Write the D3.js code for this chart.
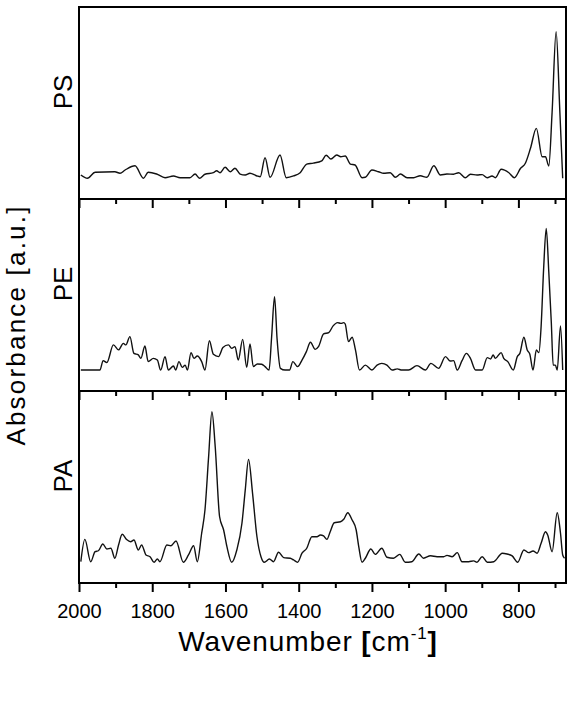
<!DOCTYPE html>
<html>
<head>
<meta charset="utf-8">
<script src="https://cdn.jsdelivr.net/npm/d3@7"></script>
<style>
body { margin: 0; background: #fff; }
svg { display: block; }
text { font-family: Arial, "Liberation Sans", sans-serif; fill: #000; }
</style>
</head>
<body>
<div id="chart"></div>
<script>
(function(){

var width = 573,
	height = 716,
	left = 79,
	right = 566,
	top = 7,
	panel_h = 192;

// spectra, [wavenumber, absorbance a.u.]

var psSpectrum = [[1995,0.125],[1977,0.108],[1956,0.139],[1902,0.142],[1888,0.134],[1874,0.151],[1847,0.173],[1824,0.108],[1811,0.139],[1788,0.130],[1765,0.111],[1742,0.120],[1724,0.111],[1697,0.111],[1683,0.130],[1671,0.108],[1656,0.129],[1633,0.137],[1624,0.147],[1615,0.137],[1601,0.165],[1587,0.142],[1574,0.160],[1560,0.130],[1546,0.125],[1533,0.134],[1514,0.120],[1505,0.116],[1492,0.215],[1478,0.113],[1451,0.229],[1434,0.111],[1414,0.120],[1396,0.137],[1378,0.182],[1360,0.187],[1337,0.199],[1325,0.228],[1312,0.208],[1296,0.229],[1285,0.220],[1273,0.224],[1259,0.182],[1246,0.177],[1227,0.111],[1218,0.113],[1200,0.151],[1182,0.142],[1168,0.134],[1150,0.137],[1136,0.113],[1122,0.130],[1104,0.111],[1086,0.111],[1068,0.121],[1050,0.113],[1031,0.173],[1013,0.125],[995,0.130],[977,0.129],[963,0.137],[945,0.111],[931,0.129],[913,0.125],[899,0.127],[885,0.111],[872,0.120],[863,0.111],[847,0.155],[826,0.137],[811,0.111],[794,0.160],[781,0.186],[767,0.264],[751,0.368],[735,0.220],[726,0.220],[717,0.172],[708,0.450],[697,0.871],[687,0.464],[679,0.108]];

var peSpectrum = [[1995,0.109],[1943,0.109],[1934,0.158],[1924,0.148],[1906,0.240],[1892,0.214],[1879,0.248],[1872,0.240],[1861,0.283],[1850,0.196],[1838,0.188],[1831,0.170],[1820,0.234],[1811,0.153],[1797,0.170],[1786,0.161],[1777,0.109],[1765,0.179],[1756,0.109],[1742,0.130],[1736,0.109],[1727,0.153],[1718,0.123],[1710,0.135],[1704,0.109],[1694,0.200],[1686,0.170],[1677,0.182],[1665,0.153],[1656,0.109],[1644,0.262],[1633,0.191],[1619,0.179],[1607,0.226],[1592,0.240],[1583,0.222],[1574,0.231],[1565,0.161],[1553,0.269],[1542,0.123],[1533,0.245],[1524,0.127],[1513,0.141],[1501,0.139],[1492,0.127],[1481,0.109],[1474,0.280],[1466,0.491],[1459,0.270],[1450,0.118],[1437,0.109],[1425,0.109],[1416,0.153],[1403,0.127],[1391,0.161],[1379,0.205],[1368,0.254],[1355,0.217],[1346,0.231],[1332,0.297],[1318,0.304],[1306,0.339],[1294,0.356],[1285,0.352],[1277,0.356],[1273,0.349],[1264,0.257],[1254,0.280],[1245,0.214],[1234,0.109],[1218,0.135],[1200,0.109],[1186,0.135],[1173,0.144],[1159,0.135],[1145,0.109],[1131,0.115],[1118,0.109],[1100,0.109],[1077,0.132],[1054,0.109],[1039,0.144],[1018,0.118],[999,0.179],[986,0.156],[977,0.158],[967,0.109],[954,0.158],[942,0.196],[931,0.170],[917,0.109],[899,0.109],[885,0.174],[876,0.167],[869,0.188],[863,0.170],[847,0.200],[840,0.170],[829,0.153],[814,0.109],[803,0.179],[796,0.196],[785,0.280],[776,0.214],[769,0.193],[760,0.109],[751,0.214],[744,0.200],[738,0.335],[731,0.640],[724,0.847],[717,0.620],[710,0.352],[705,0.135],[699,0.135],[694,0.109],[685,0.339],[679,0.109]];

var paSpectrum = [[1995,0.111],[1984,0.227],[1968,0.111],[1956,0.163],[1947,0.168],[1935,0.203],[1924,0.177],[1913,0.181],[1902,0.129],[1892,0.198],[1882,0.254],[1870,0.227],[1859,0.215],[1850,0.224],[1838,0.172],[1829,0.198],[1817,0.146],[1806,0.137],[1795,0.108],[1786,0.125],[1779,0.111],[1760,0.198],[1749,0.194],[1735,0.219],[1715,0.108],[1701,0.146],[1687,0.194],[1677,0.111],[1665,0.259],[1656,0.380],[1646,0.658],[1637,0.892],[1628,0.710],[1616,0.345],[1605,0.276],[1596,0.189],[1583,0.108],[1569,0.172],[1555,0.311],[1546,0.484],[1537,0.644],[1526,0.467],[1514,0.241],[1503,0.137],[1494,0.108],[1480,0.125],[1469,0.111],[1455,0.160],[1441,0.132],[1423,0.129],[1414,0.120],[1403,0.108],[1391,0.155],[1378,0.181],[1364,0.241],[1350,0.241],[1341,0.250],[1332,0.245],[1323,0.227],[1314,0.267],[1303,0.314],[1286,0.319],[1277,0.332],[1266,0.366],[1254,0.328],[1243,0.276],[1236,0.189],[1227,0.108],[1218,0.129],[1203,0.177],[1191,0.149],[1173,0.181],[1159,0.134],[1141,0.129],[1124,0.149],[1109,0.108],[1091,0.111],[1072,0.151],[1059,0.129],[1040,0.142],[1022,0.137],[1004,0.137],[995,0.144],[981,0.137],[967,0.158],[954,0.111],[936,0.111],[922,0.115],[913,0.108],[899,0.137],[885,0.108],[867,0.111],[844,0.155],[831,0.151],[817,0.141],[802,0.108],[785,0.172],[772,0.158],[760,0.167],[749,0.155],[738,0.207],[726,0.267],[720,0.250],[708,0.163],[694,0.366],[685,0.259],[679,0.146],[674,0.129]];

var panelNames = ["PS", "PE", "PA"];
var spectra = [psSpectrum, peSpectrum, paSpectrum];

var majorTicks = [2000, 1800, 1600, 1400, 1200, 1000, 800];
var minorTicks = [1900, 1700, 1500, 1300, 1100, 900, 700];
var xDomain = [2000, 670];

var svg = d3.select("#chart").append("svg")
	.attr("width", width)
	.attr("height", height);

var X = d3.scaleLinear().domain(xDomain).range([left, right]);

var line = d3.line()
	.x(function(d){ return X(d[0]); })
	.curve(d3.curveMonotoneX);

panelNames.forEach(function(name, i){
	var y0 = top + i * panel_h;
	var Y = d3.scaleLinear().domain([0, 1]).range([y0 + panel_h, y0]);
	var g = svg.append("g");

	// ticks hang below each panel, labels only on the last one
	var major = d3.axisBottom(X).tickValues(majorTicks).tickSize(9).tickSizeOuter(0)
		.tickFormat(i == 2 ? d3.format("d") : "");
	var minor = d3.axisBottom(X).tickValues(minorTicks).tickSize(5).tickSizeOuter(0).tickFormat("");

	var ax = g.append("g").attr("transform", "translate(0," + (y0 + panel_h) + ")").call(major);
	g.append("g").attr("transform", "translate(0," + (y0 + panel_h) + ")").call(minor);
	g.selectAll(".domain").remove();
	g.selectAll(".tick line").attr("stroke", "#000").attr("stroke-width", 2);
	ax.selectAll(".tick text")
		.attr("y", 21)
		.style("font-size", "20px")
		.style("font-family", "Arial, 'Liberation Sans', sans-serif")
		.attr("fill", "#000");

	g.append("rect")
		.attr("x", left).attr("y", y0)
		.attr("width", right - left).attr("height", panel_h)
		.attr("fill", "none").attr("stroke", "#000").attr("stroke-width", 2);

	g.append("path")
		.datum(spectra[i])
		.attr("d", line.y(function(d){ return Y(d[1]); }))
		.attr("fill", "none")
		.attr("stroke", "#111")
		.attr("stroke-width", 1.4)
		.attr("stroke-linejoin", "round");

	g.append("text")
		.attr("transform", "translate(72," + (y0 + panel_h / 2 - 11) + ") rotate(-90)")
		.attr("text-anchor", "middle")
		.style("font-size", "26px")
		.text(name);
});

// axis titles
svg.append("text")
	.attr("transform", "translate(25,325) rotate(-90)")
	.attr("text-anchor", "middle")
	.style("font-size", "26px")
	.style("letter-spacing", "2.2px")
	.text("Absorbance [a.u.]");

var xt = svg.append("text")
	.attr("x", 308)
	.attr("y", 651)
	.attr("text-anchor", "middle")
	.style("font-size", "28px")
	.style("letter-spacing", "0.9px");
xt.append("tspan").text("Wavenumber ");
xt.append("tspan").style("font-weight", "bold").text("[");
xt.append("tspan").text("cm");
xt.append("tspan").attr("dy", -12).style("font-size", "17px").text("-1");
xt.append("tspan").attr("dy", 12).style("font-weight", "bold").text("]");

})()
</script>
</body>
</html>
